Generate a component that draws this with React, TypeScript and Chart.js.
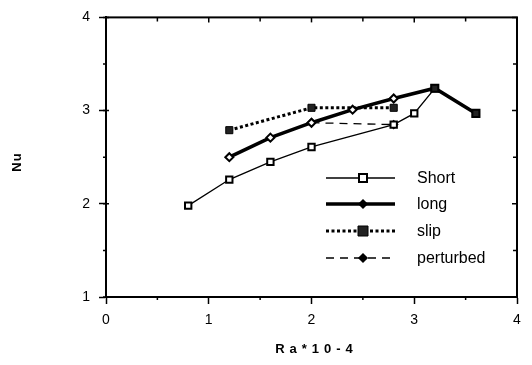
import React, { useEffect, useRef } from "react";
import { Chart, registerables } from "chart.js";

Chart.register(...registerables);

const shortX = [0.8, 1.2, 1.6, 2.0, 2.8, 3.0, 3.2, 3.6];
const shortY = [1.98, 2.26, 2.45, 2.61, 2.85, 2.97, 3.24, 2.97];
const longX = [1.2, 1.6, 2.0, 2.4, 2.8, 3.2, 3.6];
const longY = [2.5, 2.71, 2.87, 3.01, 3.13, 3.24, 2.97];
const slipX = [1.2, 2.0, 2.8];
const slipY = [2.79, 3.03, 3.03];
const pertX = [2.0, 2.8];
const pertY = [2.87, 2.85];
const seriesNames = ["Short", "long", "slip", "perturbed"];
const xTicks = [0, 1, 2, 3, 4];
const yTicks = [1, 2, 3, 4];
const xTitle = "Ra*10-4";
const yTitle = "Nu";

const zip = (xs: number[], ys: number[]) => xs.map((x, i) => ({ x, y: ys[i] }));

function drawMarker(ctx: CanvasRenderingContext2D, style: string, x: number, y: number, r: number, fill: string, bw: number) {
  ctx.save();
  ctx.beginPath();
  if (style === "rect") {
    ctx.rect(x - r, y - r, 2 * r, 2 * r);
  } else {
    ctx.moveTo(x, y - r);
    ctx.lineTo(x + r, y);
    ctx.lineTo(x, y + r);
    ctx.lineTo(x - r, y);
    ctx.closePath();
  }
  ctx.fillStyle = fill;
  ctx.fill();
  ctx.lineWidth = bw;
  ctx.strokeStyle = "#000";
  ctx.setLineDash([]);
  ctx.stroke();
  ctx.restore();
}

const legendMarkers = [
  { style: "rect", r: 4, fill: "#fff", bw: 2 },
  { style: "diamond", r: 4, fill: "#000", bw: 1.5 },
  { style: "rect", r: 5, fill: "#222", bw: 1 },
  { style: "diamond", r: 4, fill: "#000", bw: 1.5 },
];

const framePlugin = {
  id: "frame",
  afterDraw(chart: any) {
    const ctx = chart.ctx as CanvasRenderingContext2D;
    const { left, right, top, bottom } = chart.chartArea;
    const xs = chart.scales.x;
    const ys = chart.scales.y;
    ctx.save();
    ctx.strokeStyle = "#000";
    ctx.lineWidth = 2;
    ctx.strokeRect(left, top, right - left, bottom - top);
    ctx.lineWidth = 1.5;
    for (let v = 0; v <= 4.001; v += 0.5) {
      const px = xs.getPixelForValue(v);
      const major = Math.abs(v - Math.round(v)) < 1e-6;
      ctx.beginPath();
      ctx.moveTo(px, top);
      ctx.lineTo(px, top + (major ? 5 : 4));
      if (!major) {
        ctx.moveTo(px, bottom);
        ctx.lineTo(px, bottom + 3);
      }
      ctx.stroke();
    }
    for (let v = 1; v <= 4.001; v += 0.5) {
      const py = ys.getPixelForValue(v);
      const major = Math.abs(v - Math.round(v)) < 1e-6;
      ctx.beginPath();
      ctx.moveTo(right, py);
      ctx.lineTo(right - (major ? 5 : 4), py);
      ctx.moveTo(left, py);
      ctx.lineTo(left - 3, py);
      if (major) {
        ctx.moveTo(left, py);
        ctx.lineTo(left + 3, py);
      }
      ctx.stroke();
    }
    ctx.fillStyle = "#000";
    ctx.font = "bold 13px 'Liberation Sans', Arial, sans-serif";
    ctx.textAlign = "center";
    ctx.textBaseline = "middle";
    (ctx as any).letterSpacing = "5px";
    ctx.fillText(xTitle, (left + right) / 2 + 5, 349);
    (ctx as any).letterSpacing = "1px";
    ctx.save();
    ctx.translate(17, 162);
    ctx.rotate(-Math.PI / 2);
    ctx.fillText(yTitle, 0, 0);
    ctx.restore();
    (ctx as any).letterSpacing = "0px";

    const rows = [178, 204, 231, 258];
    const x0 = 326, x1 = 395, mx = 363, tx = 417;
    chart.data.datasets.forEach((ds: any, i: number) => {
      const y = rows[i];
      ctx.save();
      ctx.strokeStyle = "#000";
      ctx.lineWidth = ds.borderWidth;
      ctx.setLineDash(ds.borderDash || []);
      ctx.beginPath();
      ctx.moveTo(x0, y);
      ctx.lineTo(x1, y);
      ctx.stroke();
      ctx.restore();
      const m = legendMarkers[i];
      drawMarker(ctx, m.style, mx, y, m.r, m.fill, m.bw);
      ctx.fillStyle = "#000";
      ctx.font = "16px 'Liberation Sans', Arial, sans-serif";
      ctx.textAlign = "left";
      ctx.textBaseline = "middle";
      ctx.fillText(ds.label, tx, y + 1);
    });
    ctx.restore();
  },
};

export default function App() {
  const ref = useRef<HTMLCanvasElement>(null);
  useEffect(() => {
    if (!ref.current) return;
    const isEnd = (c: any) => c.raw && c.raw.x >= 3.2;
    const chart = new Chart(ref.current, {
      type: "line",
      data: {
        datasets: [
          {
            label: seriesNames[0],
            data: zip(shortX, shortY),
            borderColor: "#000",
            borderWidth: 1.3,
            pointStyle: "rect",
            pointRadius: 4.5,
            pointBorderWidth: 2,
            pointBackgroundColor: "#fff",
            pointBorderColor: "#000",
            order: 2,
          },
          {
            label: seriesNames[1],
            data: zip(longX, longY),
            borderColor: "#000",
            borderWidth: 3.5,
            pointStyle: (c: any) => (isEnd(c) ? "rect" : "rectRot"),
            pointRadius: (c: any) => (isEnd(c) ? 5 : 4),
            pointBorderWidth: 2,
            pointBackgroundColor: (c: any) => (isEnd(c) ? "#222" : "#fff"),
            pointBorderColor: "#000",
            order: 1,
          },
          {
            label: seriesNames[2],
            data: zip(slipX, slipY),
            borderColor: "#000",
            borderWidth: 3,
            borderDash: [3, 2.5],
            pointStyle: "rect",
            pointRadius: 5,
            pointBorderWidth: 1,
            pointBackgroundColor: "#222",
            pointBorderColor: "#000",
            order: 3,
          },
          {
            label: seriesNames[3],
            data: zip(pertX, pertY),
            borderColor: "#000",
            borderWidth: 1.3,
            borderDash: [8, 6],
            pointStyle: "rectRot",
            pointRadius: 3.5,
            pointBorderWidth: 2,
            pointBackgroundColor: "#fff",
            pointBorderColor: "#000",
            order: 4,
          },
        ] as any,
      },
      options: {
        animation: false,
        responsive: false,
        layout: { padding: { left: 0, top: 12, right: 15, bottom: 0 } },
        plugins: { legend: { display: false }, tooltip: { enabled: false } },
        scales: {
          x: {
            type: "linear",
            min: 0,
            max: 4,
            afterFit: (s: any) => { s.height = 68; },
            afterBuildTicks: (s: any) => { s.ticks = xTicks.map((v) => ({ value: v })); },
            ticks: { color: "#000", padding: 8, font: { size: 14, family: "'Liberation Sans', Arial, sans-serif" } },
            grid: { drawOnChartArea: false, tickLength: 7, tickWidth: 1.5, tickColor: "#000" },
            border: { color: "#000", width: 2 },
          },
          y: {
            type: "linear",
            min: 1,
            max: 4,
            afterFit: (s: any) => { s.width = 106; },
            afterBuildTicks: (s: any) => { s.ticks = yTicks.map((v) => ({ value: v })); },
            ticks: { color: "#000", padding: 9, font: { size: 14, family: "'Liberation Sans', Arial, sans-serif" } },
            grid: { drawOnChartArea: false, tickLength: 7, tickWidth: 1.5, tickColor: "#000" },
            border: { color: "#000", width: 2 },
          },
        },
      } as any,
      plugins: [framePlugin],
    });
    return () => chart.destroy();
  }, []);
  return (
    <div style={{ position: "absolute", left: 0, top: 0, width: 532, height: 365, background: "#fff" }}>
      <canvas ref={ref} width={532} height={365} />
    </div>
  );
}
